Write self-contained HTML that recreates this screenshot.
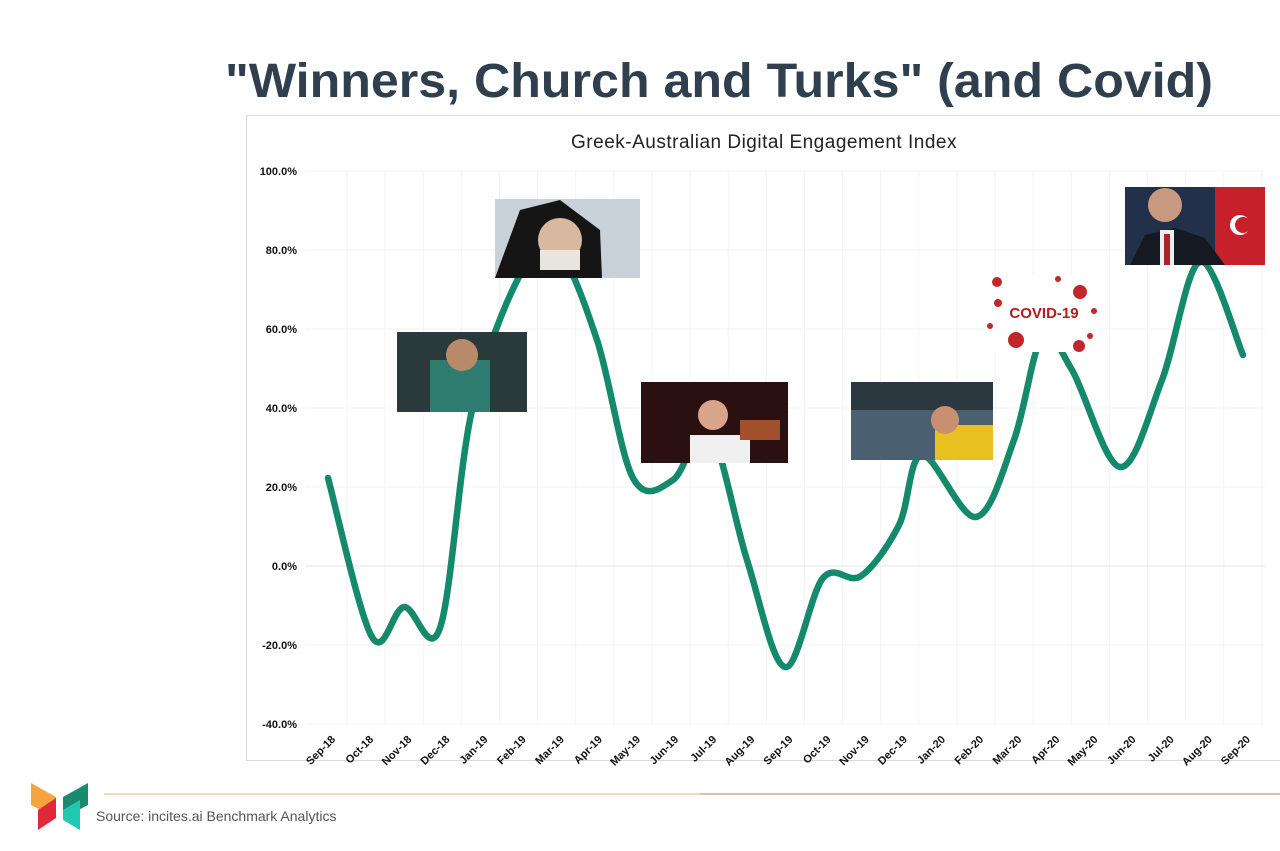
<!DOCTYPE html>
<html><head><meta charset="utf-8"><style>
html,body{margin:0;padding:0;background:#fff;width:1280px;height:851px;overflow:hidden;font-family:"Liberation Sans",sans-serif}
</style></head><body>
<svg width="1280" height="851" viewBox="0 0 1280 851" xmlns="http://www.w3.org/2000/svg">
<rect width="1280" height="851" fill="#fff"/>
<text x="225" y="97" textLength="988" lengthAdjust="spacingAndGlyphs" font-family="Liberation Sans,sans-serif" font-weight="bold" font-size="48" fill="#2f3f4d">"Winners, Church and Turks" (and Covid)</text>
<rect x="246.5" y="115.5" width="1040" height="645" fill="#fff" stroke="#d8d8d8"/>
<text x="764" y="148" text-anchor="middle" font-size="19" fill="#222" letter-spacing="0.5">Greek-Australian Digital Engagement Index</text>
<g id="grid" stroke="#f4f3f4" stroke-width="1"></g>
<line x1="305" y1="566" x2="1265" y2="566" stroke="#e6e4e6"/>
<g font-size="11" font-weight="bold" fill="#111" text-anchor="end" font-family="Liberation Sans,sans-serif">
<text x="297" y="175">100.0%</text><text x="297" y="254">80.0%</text><text x="297" y="333">60.0%</text><text x="297" y="412">40.0%</text><text x="297" y="491">20.0%</text><text x="297" y="570">0.0%</text><text x="297" y="649">-20.0%</text><text x="297" y="728">-40.0%</text>
</g>
<g id="xl" font-size="11" font-weight="bold" fill="#111" text-anchor="end"></g>
<path id="curve" fill="none" stroke="#14896b" stroke-width="6.5" stroke-linecap="round" stroke-linejoin="round"/>
<rect x="397" y="332" width="130" height="80" fill="#2a3a3a"/><rect x="430" y="360" width="60" height="52" fill="#2f7d70"/><circle cx="462" cy="355" r="16" fill="#b98a6a"/>
<rect x="495" y="199" width="145" height="79" fill="#c8d0da"/><path d="M495 278 L520 210 L560 200 L600 230 L602 278Z" fill="#151515"/><circle cx="560" cy="240" r="22" fill="#d9b8a0"/><rect x="540" y="250" width="40" height="20" fill="#e8e4e0"/>
<rect x="641" y="382" width="147" height="81" fill="#2a1010"/><rect x="690" y="435" width="60" height="28" fill="#f0f0f0"/><circle cx="713" cy="415" r="15" fill="#d9a58a"/><rect x="740" y="420" width="40" height="20" fill="#a0502a"/>
<rect x="851" y="382" width="142" height="78" fill="#2c3840"/><rect x="851" y="410" width="142" height="50" fill="#4a6070"/><rect x="935" y="425" width="58" height="35" fill="#e8c020"/><circle cx="945" cy="420" r="14" fill="#c89070"/>
<rect x="985" y="275" width="112" height="77" fill="#fff"/>
<g fill="#c0282a"><circle cx="997" cy="282" r="5"/><circle cx="1080" cy="292" r="7"/><circle cx="1016" cy="340" r="8"/><circle cx="1079" cy="346" r="6"/><circle cx="1090" cy="336" r="3"/><circle cx="998" cy="303" r="4"/><circle cx="1058" cy="279" r="3"/><circle cx="990" cy="326" r="3"/><circle cx="1094" cy="311" r="3"/></g>
<text x="1044" y="318" text-anchor="middle" font-weight="bold" font-size="15" fill="#b01c20">COVID-19</text>
<rect x="1125" y="187" width="140" height="78" fill="#23304a"/><rect x="1215" y="187" width="50" height="78" fill="#c8202a"/><circle cx="1240" cy="225" r="10" fill="#fff"/><circle cx="1243" cy="225" r="8" fill="#c8202a"/><path d="M1130 265 L1145 235 L1175 228 L1205 238 L1225 265Z" fill="#151a22"/><circle cx="1165" cy="205" r="17" fill="#c89a80"/><rect x="1160" y="230" width="14" height="35" fill="#eee"/><rect x="1164" y="234" width="6" height="31" fill="#b02028"/>
<line x1="104" y1="794" x2="1280" y2="794" stroke="#eadcc0" stroke-width="2"/>
<line x1="700" y1="794" x2="1280" y2="794" stroke="#d8a8b0" stroke-width="2" opacity="0.6"/>
<polygon points="31,783 56,797 56,818 31,805" fill="#f5a540"/>
<polygon points="38,810 56,798 56,818 38,830" fill="#e0283c"/>
<polygon points="63,797 88,783 88,805 63,818" fill="#1a8a6e"/>
<polygon points="63,810 80,800 80,830 63,820" fill="#20c8b0"/>
<text x="96" y="821" font-size="14" fill="#555">Source: incites.ai Benchmark Analytics</text>
</svg>
<script>
var ns="http://www.w3.org/2000/svg";
var months=["Sep-18","Oct-18","Nov-18","Dec-18","Jan-19","Feb-19","Mar-19","Apr-19","May-19","Jun-19","Jul-19","Aug-19","Sep-19","Oct-19","Nov-19","Dec-19","Jan-20","Feb-20","Mar-20","Apr-20","May-20","Jun-20","Jul-20","Aug-20","Sep-20"];
var g=document.getElementById("grid"),xl=document.getElementById("xl");
for(var i=0;i<25;i++){var x=328+i*38.12;
var l=document.createElementNS(ns,"line");l.setAttribute("x1",x+19);l.setAttribute("x2",x+19);l.setAttribute("y1",171);l.setAttribute("y2",724);g.appendChild(l);
var t=document.createElementNS(ns,"text");t.setAttribute("transform","translate("+(x+8)+",740) rotate(-45)");t.textContent=months[i];xl.appendChild(t);}
for(var k=0;k<8;k++){if(k==5)continue;var y=171+k*79;var l=document.createElementNS(ns,"line");l.setAttribute("x1",305);l.setAttribute("x2",1265);l.setAttribute("y1",y);l.setAttribute("y2",y);g.appendChild(l);}
var P=[[328,478],[372,637],[404,607],[440,628],[472,410],[520,275],[557,250],[597,340],[633,478],[673,480],[709,430],[747,560],[785,667],[823,578],[861,576],[899,525],[922,455],[976,517],[1014,440],[1042,338],[1072,370],[1120,467],[1162,380],[1200,262],[1243,355]];
var d="M"+P[0][0]+" "+P[0][1];
for(var i=0;i<P.length-1;i++){var p0=P[Math.max(i-1,0)],p1=P[i],p2=P[i+1],p3=P[Math.min(i+2,P.length-1)];
d+=" C"+(p1[0]+(p2[0]-p0[0])/6)+" "+(p1[1]+(p2[1]-p0[1])/6)+" "+(p2[0]-(p3[0]-p1[0])/6)+" "+(p2[1]-(p3[1]-p1[1])/6)+" "+p2[0]+" "+p2[1];}
document.getElementById("curve").setAttribute("d",d);
</script>
</body></html>
